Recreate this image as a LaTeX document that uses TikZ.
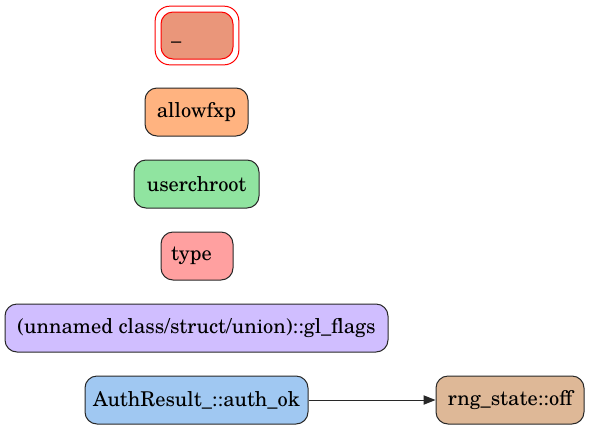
\documentclass[tikz,border=0pt]{standalone}
\usepackage{fontspec}
\setmainfont{texgyreschola-regular.otf}
\usetikzlibrary{positioning}
\usetikzlibrary{calc}
\usetikzlibrary{arrows.meta}
\definecolor{salmonfill}{RGB}{234,150,122}
\definecolor{peachfill}{RGB}{255,179,128}
\definecolor{mintfill}{RGB}{144,228,160}
\definecolor{pinkfill}{RGB}{255,160,160}
\definecolor{lilacfill}{RGB}{208,190,255}
\definecolor{skyfill}{RGB}{160,200,242}
\definecolor{tanfill}{RGB}{222,184,151}
\definecolor{edgegray}{RGB}{40,40,40}
\tikzset{
	every node/.style={font=\fontsize{15.3}{17}\selectfont},
	every path/.style={line width=0.75pt},
	tag/.style={draw=edgegray, rounded corners=9pt, minimum height=36pt, inner sep=2pt},
}

\begin{document}
\begin{tikzpicture}[x=0.75pt,y=-0.75pt]
	\useasboundingbox (0,0) rectangle (589,429);

	% top node, double red border.............
	\node [tag, draw=red, fill=salmonfill, minimum width=54pt, minimum height=35.25pt,
	       text width=39pt, align=left] (blank) at (197,35.5) {\_\vphantom{type}};
	\draw [red, rounded corners=11pt] ($(blank.north west)+(-4pt,4pt)$) rectangle ($(blank.south east)+(4pt,-4pt)$);

	% single nodes.............................
	\node [tag, fill=peachfill, minimum width=77.25pt] (allowfxp) at (196.5,112) {allowfxp};
	\node [tag, fill=mintfill, minimum width=93.75pt] (userchroot) at (196.5,184) {userchroot};
	\node [tag, fill=pinkfill, minimum width=54pt, text width=39pt, align=left] (type) at (197,256) {type};
	\node [tag, fill=lilacfill, minimum width=287.25pt] (glflags) at (196.5,328) {(unnamed class/struct/union)::gl\_flags};

	% bottom row with edge.....................
	\node [tag, fill=skyfill, minimum width=167.25pt] (authok) at (196.5,400) {AuthResult\_::auth\_ok};
	\node [tag, fill=tanfill, minimum width=111pt] (rngoff) at (510,400) {rng\_state::off};
	\draw [-{Triangle[length=9pt,width=7pt]}, edgegray] (authok) to (rngoff);
\end{tikzpicture}
\end{document}
